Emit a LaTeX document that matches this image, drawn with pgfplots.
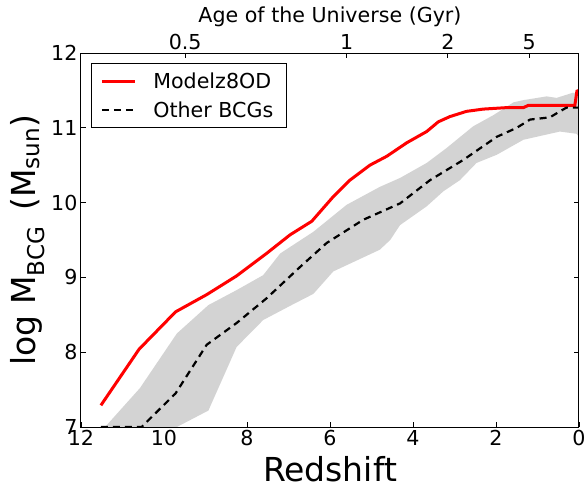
\documentclass[border=0pt]{standalone}
\usepackage{fontspec}
\setmainfont{DejaVu Sans}
\usepackage{pgfplots}
\pgfplotsset{compat=1.18}
\definecolor{bandgray}{RGB}{211,211,211}
\begin{document}
\begin{tikzpicture}
\useasboundingbox (-81pt,-61pt) rectangle (506pt,427pt);
\begin{axis}[
  at={(0,0)}, anchor=south west,
  width=498pt, height=374pt, scale only axis,
  xmin=0, xmax=12, ymin=7, ymax=12, x dir=reverse,
  xtick={0,2,4,6,8,10,12}, ytick={7,8,9,10,11,12},
  xtick pos=lower, ytick pos=both,
  tick align=inside,
  major tick length=5pt,
  every tick/.style={black, line width=0.9pt},
  axis line style={line width=1pt},
  tick label style={font=\fontsize{20.6}{24}\selectfont},
  /pgf/number format/assume math mode=true,
  label style={font=\fontsize{33}{38}\selectfont},
  xlabel={Redshift},
  xlabel style={yshift=-3pt},
  ylabel={log M\textsubscript{BCG}\, (M\textsubscript{sun})},
  legend style={at={(0.02,0.973)}, anchor=north west, draw=black, line width=0.8pt,
    font=\fontsize{20.6}{24}\selectfont, inner xsep=9pt, inner ysep=5pt,
    nodes={inner sep=4pt}, row sep=4pt,
    /tikz/every odd column/.style={column sep=13pt}},
  legend cell align=left,
  legend image code/.code={\draw[#1] (0pt,0pt) -- (33pt,0pt);},
]
\addplot[fill=bandgray, draw=none, forget plot] coordinates {
(11.6,6.85) (11.42,7.0) (10.58,7.52) (9.69,8.25) (8.93,8.63) (8.25,8.83) (7.61,9.03)
(7.2,9.32) (6.40,9.61) (5.60,9.97) (4.80,10.21) (4.31,10.33) (3.67,10.53) (3.19,10.73)
(2.55,11.02) (2.06,11.17) (1.58,11.34) (1.34,11.37) (0.78,11.42) (0.54,11.40) (0.14,11.47) (0.0,11.44)
(0.0,10.88) (0.06,10.92) (0.46,10.95) (1.02,10.88) (1.34,10.84) (1.98,10.64) (2.47,10.53)
(2.87,10.30) (3.27,10.15) (3.67,9.95) (4.31,9.70) (4.55,9.50) (4.80,9.37) (5.92,9.08)
(6.40,8.78) (6.96,8.62) (7.61,8.43) (8.25,8.07) (8.93,7.22) (9.69,7.0) (10.5,6.5) (11.6,6.5)
} -- cycle;
\addplot[red, line width=3pt] coordinates {
(11.52,7.29) (10.60,8.04) (9.72,8.54) (8.97,8.77) (8.25,9.02) (7.53,9.32) (6.96,9.57)
(6.44,9.75) (5.92,10.08) (5.52,10.30) (5.04,10.50) (4.63,10.62) (4.15,10.80) (3.67,10.95)
(3.39,11.08) (3.11,11.15) (2.71,11.22) (2.31,11.25) (1.74,11.27) (1.34,11.27) (1.22,11.30)
(0.10,11.30) (0.05,11.49) (0.00,11.50)
};
\addlegendentry{Modelz8OD}
\addplot[black, line width=2.2pt, dash pattern=on 7pt off 5pt] coordinates {
(11.52,7.0) (10.54,7.0) (9.72,7.45) (8.97,8.10) (8.25,8.39) (7.53,8.72) (6.72,9.14)
(6.08,9.46) (5.20,9.77) (4.31,9.99) (3.59,10.30) (2.79,10.57) (1.98,10.88) (1.50,11.00)
(1.18,11.11) (0.70,11.14) (0.46,11.22) (0.30,11.27) (0.00,11.27)
};
\addlegendentry{Other BCGs}
\end{axis}
\begin{axis}[
  at={(0,0)}, anchor=south west,
  width=498pt, height=374pt, scale only axis,
  xmin=0, xmax=12, ymin=7, ymax=12, x dir=reverse,
  xtick={9.49,5.60,3.16,1.20}, xticklabels={0.5,1,2,5},
  ytick=\empty,
  xtick pos=upper, xticklabel pos=upper,
  tick align=inside,
  major tick length=5pt,
  every tick/.style={black, line width=0.9pt},
  axis line style={line width=1pt},
  tick label style={font=\fontsize{20.6}{24}\selectfont},
  label style={font=\fontsize{20.6}{24}\selectfont},
  xlabel={Age of the Universe (Gyr)},
]
\addplot[draw=none] coordinates {(6,9)};
\end{axis}
\end{tikzpicture}
\end{document}
